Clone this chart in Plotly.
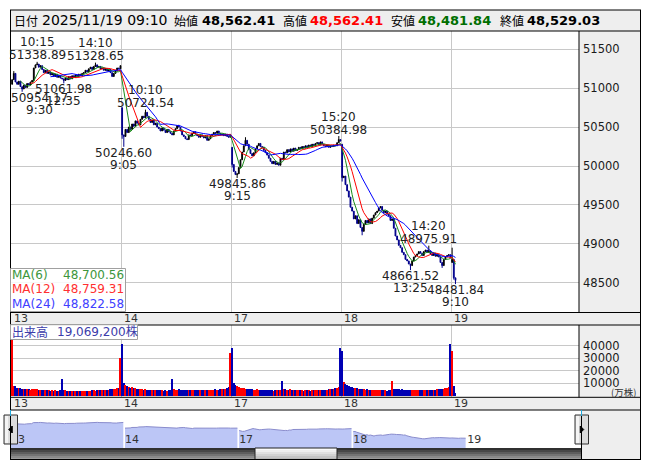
import plotly.graph_objects as go
import pandas as pd

W, H = 653, 470
def px(x): return x / W
def py(y): return 1 - y / H

FONT = "DejaVu Sans, Noto Sans CJK JP, sans-serif"
JP = "Noto Sans CJK JP, DejaVu Sans, sans-serif"

# ---------------- data ----------------
day_labels = ["13", "14", "17", "18", "19"]
bars_per_day = 66
day_open = [51050, 50750, 50240, 50280, 48760]

close_d13 = [51110, 51190, 51080, 51050, 51090, 51020, 50990, 51040, 51010, 51060,
             51040, 51080, 51100, 51260, 51300, 51310, 51270, 51290, 51240, 51200,
             51230, 51190, 51210, 51170, 51190, 51150, 51180, 51140, 51160, 51130,
             51120, 51100, 51130, 51110, 51150, 51120, 51160, 51140, 51170, 51150,
             51180, 51160, 51190, 51200, 51230, 51210, 51250, 51270, 51240, 51280,
             51300, 51270, 51280, 51250, 51260, 51230, 51250, 51220, 51240, 51200,
             51150, 51190, 51220, 51260, 51250, 51290]
close_d14 = [50400, 50380, 50470, 50430, 50500, 50470, 50540, 50510, 50580, 50550,
             50530, 50600, 50640, 50620, 50690, 50640, 50600, 50560, 50590, 50530,
             50550, 50500, 50480, 50450, 50490, 50460, 50430, 50470, 50440, 50420,
             50400, 50450, 50480, 50520, 50500, 50450, 50400, 50380, 50350, 50340,
             50400, 50390, 50420, 50440, 50410, 50390, 50370, 50400, 50380, 50360,
             50390, 50330, 50350, 50390, 50410, 50430, 50420, 50450, 50420, 50400,
             50410, 50390, 50410, 50380, 50370, 50400]
close_d17 = [50020, 49930, 49890, 49900, 49980, 50080, 50180, 50260, 50330, 50280,
             50210, 50160, 50130, 50170, 50220, 50260, 50290, 50250, 50240, 50200,
             50170, 50140, 50100, 50060, 50030, 50060, 50020, 50040, 50010, 50100,
             50080, 50180, 50170, 50210, 50180, 50220, 50190, 50230, 50200, 50210,
             50240, 50220, 50250, 50230, 50260, 50240, 50270, 50250, 50280, 50260,
             50290, 50300, 50270, 50310, 50280, 50260, 50250, 50270, 50240, 50260,
             50250, 50270, 50260, 50300, 50340, 50320]
close_d18 = [49850, 49870, 49760, 49680, 49600, 49470, 49420, 49320, 49360, 49260,
             49310, 49210, 49160, 49250, 49300, 49270, 49320, 49260, 49330, 49370,
             49400, 49420, 49460, 49480, 49430, 49400, 49420, 49380, 49360, 49300,
             49320, 49200, 49100, 49050, 48980, 48950, 48890, 48860, 48800, 48780,
             48740, 48720, 48780, 48830, 48850, 48870, 48900, 48880, 48850, 48900,
             48920, 48890, 48910, 48870, 48850, 48880, 48840, 48860, 48830, 48760,
             48720, 48800, 48830, 48850, 48860, 48820]
close_d19 = [48800, 48562.41, 48529.03]

vol_d13 = [44500, 7600, 7800, 6500, 6000, 6300, 5800, 5500, 5700, 5200,
           5400, 5000, 5500, 5600, 5200, 5100, 4800, 4700, 4900, 4500,
           4400, 4600, 4300, 4200, 4500, 4100, 4300, 4000, 4200, 4400,
           13300, 4800, 4300, 4100, 3900, 4000, 3800, 3700, 3900, 3600,
           3800, 3700, 3900, 4000, 3800, 4100, 4200, 4000, 4300, 4500,
           4200, 4400, 4600, 4300, 4500, 4700, 4800, 4600, 5000, 5200,
           5100, 5400, 5800, 6000, 6400, 30000]
vol_d14 = [41500, 10400, 8500, 7500, 7200, 6500, 6800, 6000, 6200, 5800,
           5500, 5600, 5300, 5000, 5200, 4900, 5000, 4800, 4600, 4700,
           4500, 4600, 4400, 4300, 4500, 4200, 4400, 4100, 4300, 4600,
           13300, 5600, 5000, 4800, 5200, 4900, 4600, 4700, 4500, 4800,
           4600, 4400, 4500, 4300, 4600, 4400, 4700, 4500, 4300, 4600,
           4400, 4800, 4600, 4500, 4700, 4900, 5100, 4800, 5000, 5300,
           5200, 5500, 5800, 6200, 6800, 34000]
vol_d17 = [38500, 10000, 8800, 8000, 7000, 6500, 6200, 6000, 5800, 5500,
           5600, 5300, 5200, 5000, 4800, 5100, 4700, 4900, 4600, 4800,
           4500, 4600, 4400, 4300, 4500, 4200, 4400, 4300, 4500, 4600,
           12000, 5800, 5300, 5000, 4800, 5100, 4700, 4500, 4600, 4400,
           4700, 4300, 4500, 4200, 4400, 4300, 4500, 4200, 4400, 4600,
           4300, 4500, 4700, 4400, 4600, 4800, 4700, 5000, 5200, 5100,
           5400, 5600, 5900, 6300, 7000, 38000]
vol_d18 = [36000, 11000, 9500, 8500, 7800, 7000, 6800, 6500, 6000, 6200,
           5800, 5600, 5500, 5300, 5000, 5200, 4900, 4800, 5000, 4700,
           4600, 4800, 4500, 4400, 4600, 4300, 4500, 4200, 4400, 4600,
           12000, 5800, 5500, 5200, 5400, 5000, 5100, 4800, 4700, 5000,
           4800, 4600, 4500, 4700, 4400, 4600, 4300, 4500, 4700, 4400,
           4600, 4800, 4500, 4700, 4900, 4600, 5000, 5200, 5100, 5400,
           5600, 5500, 5900, 6200, 7000, 41500]
vol_d19 = [36000, 8000, 1906.92]

# wick extremes (bar index -> price)
wick_high_bars = [1, 15, 50, 80, 100, 140, 196, 250, 264]
wick_high_vals = [51220, 51338.89, 51328.65, 50724.54, 50530, 50370, 50384.98, 48975.91, 48950]
wick_low_bars = [6, 31, 66, 67, 132, 135, 198, 210, 239, 258, 265, 266]
wick_low_vals = [50954.17, 51061.98, 50350, 50246.60, 49980, 49845.86, 49800, 49110,
                 48661.52, 48690, 48540, 48481.84]

# annotated highs / lows
lbl_bar = [15, 50, 6, 31, 67, 80, 135, 196, 239, 250, 266]
lbl_price = [51338.89, 51328.65, 50954.17, 51061.98, 50246.60, 50724.54,
             49845.86, 50384.98, 48661.52, 48975.91, 48481.84]
lbl_time = ["10:15", "14:10", "9:30", "12:35", "9:05", "10:10",
            "9:15", "15:20", "13:25", "14:20", "9:10"]
lbl_kind = ["high", "high", "low", "low", "low", "high",
            "low", "high", "low", "high", "low"]

ma_names = ["MA(6)", "MA(12)", "MA(24)"]
ma_periods = [6, 12, 24]
ma_last = ["48,700.56", "48,759.31", "48,822.58"]
hdr_open, hdr_high, hdr_low, hdr_close = "48,562.41", "48,562.41", "48,481.84", "48,529.03"
hdr_date = "2025/11/19 09:10"
volume_text = "19,069,200株"

price_ticks = [48500, 49000, 49500, 50000, 50500, 51000, 51500]
vol_ticks = [10000, 20000, 30000, 40000]

# ---------------- assemble ----------------
closes_by_day = [close_d13, close_d14, close_d17, close_d18, close_d19]
vols_by_day = [vol_d13, vol_d14, vol_d17, vol_d18, vol_d19]
for c, v in zip(closes_by_day, vols_by_day):
    assert len(c) == len(v)

closes, opens, vols, xs = [], [], [], []
for d, (cl, vl) in enumerate(zip(closes_by_day, vols_by_day)):
    for j, c in enumerate(cl):
        o = day_open[d] if j == 0 else cl[j - 1]
        xs.append(d * bars_per_day + j)
        opens.append(o)
        closes.append(c)
        vols.append(vl[j])
highs = [max(o, c) for o, c in zip(opens, closes)]
lows = [min(o, c) for o, c in zip(opens, closes)]
idx = {x: k for k, x in enumerate(xs)}
for b, v in zip(wick_high_bars, wick_high_vals):
    highs[idx[b]] = max(highs[idx[b]], v)
for b, v in zip(wick_low_bars, wick_low_vals):
    lows[idx[b]] = min(lows[idx[b]], v)

s = pd.Series(closes)
mas = [s.rolling(p).mean() for p in ma_periods]
vol_colors = ["#ff0000" if c >= o else "#0000b4" for o, c in zip(opens, closes)]

fig = go.Figure()
fig.add_trace(go.Candlestick(
    x=xs, open=opens, high=highs, low=lows, close=closes,
    increasing=dict(line=dict(color="#000000", width=1), fillcolor="#000000"),
    decreasing=dict(line=dict(color="#00008c", width=1), fillcolor="#00008c"),
    whiskerwidth=0, xaxis="x", yaxis="y", hoverinfo="skip"))
ma_colors = ["#1a8a1a", "#ff0000", "#0000ff"]
for m, col in zip(mas, ma_colors):
    fig.add_trace(go.Scatter(x=xs, y=m, mode="lines", line=dict(color=col, width=1),
                             xaxis="x", yaxis="y", hoverinfo="skip"))
fig.add_trace(go.Bar(x=xs, y=vols, marker=dict(color=vol_colors, line=dict(width=0)),
                     width=0.6, xaxis="x2", yaxis="y2", hoverinfo="skip"))

# navigator (days with full sessions)
for d in range(4):
    nx = [d * bars_per_day + j for j in range(len(closes_by_day[d]))]
    fig.add_trace(go.Scatter(x=nx, y=closes_by_day[d], mode="lines", fill="tozeroy",
                             fillcolor="#bcc6f6", line=dict(color="#8a8ccc", width=1),
                             xaxis="x3", yaxis="y3", hoverinfo="skip"))
nav_label_y = 48430
fig.add_trace(go.Scatter(x=[d * bars_per_day for d in range(5)], y=[nav_label_y] * 5,
                         mode="text", text=day_labels, textposition="middle right",
                         textfont=dict(family=FONT, size=11, color="#333333"),
                         xaxis="x3", yaxis="y3", hoverinfo="skip", cliponaxis=False))

# ---------------- axes ----------------
BW = 110 / 66.0
XL = 11.3
xr = [-0.5 - (XL - 11) / BW, -0.5 + (579 - XL) / BW]
bounds = [d * bars_per_day - 0.5 for d in range(1, 5)]
grid = "#c8c8c8"
common_x = dict(range=xr, showticklabels=False, ticks="", tickvals=bounds, showgrid=True,
                gridcolor=grid, gridwidth=1, zeroline=False, showline=False, fixedrange=True)
p_top, p_bot = 31, 312.5
ppx = 0.0778
ymax = 48500 + (282.7 - p_top) / ppx
ymin = 48500 - (p_bot - 282.7) / ppx
v_top, v_bot = 325, 397.3
vpx = 12.5 / 10000
v0 = 395.8
vr = [-(v_bot - v0) / vpx, (v0 - v_top) / vpx]
n_top, n_bot = 410, 448
nb = 1.729
nxr = [(10.5 - 10.9) / nb, (581.5 - 10.9) / nb]
nyr = [48850 - (n_bot - 438) * 156.7, 51200 + (423 - n_top) * 156.7]

tickfont = dict(family=FONT, size=11.5, color="#1a1a1a")
fig.update_layout(
    width=W, height=H, margin=dict(l=0, r=0, t=0, b=0, pad=0),
    paper_bgcolor="#ffffff", plot_bgcolor="rgba(0,0,0,0)", showlegend=False,
    template="none", bargap=0,
    xaxis=dict(domain=[px(11), px(579)], anchor="y", rangeslider=dict(visible=False), **common_x),
    yaxis=dict(domain=[py(p_bot), py(p_top)], range=[ymin, ymax], side="right", anchor="x",
               tickvals=price_ticks, ticktext=[str(t) for t in price_ticks], ticks="",
               showgrid=True, gridcolor=grid, zeroline=False, showline=False,
               tickfont=tickfont, ticklabelstandoff=3, fixedrange=True, automargin=False),
    xaxis2=dict(domain=[px(11), px(579)], anchor="y2", **common_x),
    yaxis2=dict(domain=[py(v_bot), py(v_top)], range=vr, side="right", anchor="x2",
                tickvals=vol_ticks, ticktext=[str(t) for t in vol_ticks], ticks="",
                showgrid=True, gridcolor=grid, zeroline=False, showline=False,
                tickfont=tickfont, ticklabelstandoff=3, fixedrange=True, automargin=False),
    xaxis3=dict(domain=[px(10.5), px(581.5)], anchor="y3", range=nxr, visible=False, fixedrange=True),
    yaxis3=dict(domain=[py(n_bot), py(n_top)], anchor="x3", range=nyr, visible=False, fixedrange=True),
)

# ---------------- frame & panels ----------------
shapes = []
def rect(x0, y0, x1, y1, fill=None, line=None, lw=1, layer="below"):
    shapes.append(dict(type="rect", xref="paper", yref="paper", x0=px(x0), x1=px(x1),
                       y0=py(y0), y1=py(y1), fillcolor=fill or "rgba(0,0,0,0)",
                       line=dict(color=line or "rgba(0,0,0,0)", width=lw if line else 0),
                       layer=layer))
def hline(y, x0, x1, color="#000000"):
    shapes.append(dict(type="line", xref="paper", yref="paper", x0=px(x0), x1=px(x1),
                       y0=py(y), y1=py(y), line=dict(color=color, width=1), layer="above"))
def vline(x, y0, y1, color="#000000"):
    shapes.append(dict(type="line", xref="paper", yref="paper", x0=px(x), x1=px(x),
                       y0=py(y0), y1=py(y1), line=dict(color=color, width=1), layer="above"))

GRAY = "#eeeeee"
rect(10, 10, 641, 31, fill=GRAY)                 # header
rect(579, 31, 641, 410, fill=GRAY)               # right axis column
rect(10, p_bot, 641, v_top, fill=GRAY)           # date strip 1
rect(10, v_bot, 641, 410, fill=GRAY)             # date strip 2
rect(581.5, 410, 641, 459.5, fill=GRAY)          # nav right
# scrollbar
sb_cols = ["#303030", "#484848", "#5e5e5e", "#747474", "#8a8a8a", "#9c9c9c"]
sb_y = [448, 450, 452, 454, 456, 458, 459.5]
for k, col in enumerate(sb_cols):
    rect(10.5, sb_y[k], 581.5, sb_y[k + 1], fill=col, layer="above")
th_cols = ["#fafafa", "#eeeeee", "#e0e0e0", "#d2d2d2", "#c4c4c4", "#b8b8b8"]
for k, col in enumerate(th_cols):
    rect(255, sb_y[k], 337, sb_y[k + 1], fill=col, layer="above")
rect(255, 448, 337, 459.5, line="#222222", layer="above")
# nav buttons
for bx0, bx1, left in [(4, 17.5, True), (575, 588.5, False)]:
    rect(bx0, 415, bx1, 444, fill="#dcdcdc", line="#333333", layer="above")
    rect(bx0 + 1, 416, bx0 + 4, 443, fill="#f4f4f4", layer="above")
    cx, cy = (bx0 + bx1) / 2, 429.5
    if left:
        pts = [(cx + 1.5, cy - 3.5), (cx + 1.5, cy + 3.5), (cx - 2, cy)]
    else:
        pts = [(cx - 1.5, cy - 3.5), (cx - 1.5, cy + 3.5), (cx + 2, cy)]
    path = "M " + " L ".join(f"{px(a)},{py(b)}" for a, b in pts) + " Z"
    shapes.append(dict(type="path", xref="paper", yref="paper", path=path,
                       fillcolor="#000000", line=dict(color="#000000", width=1), layer="above"))
# lines
for y in [10, 31, p_bot, v_top, v_bot, 410, 459.5]:
    hline(y, 10, 641)
vline(10.5, 10, 459.5)
vline(640.5, 10, 459.5)
vline(579, 31, p_bot)
vline(579, v_top, v_bot)
vline(581.5, 410, 459.5)
vline(10.5, 410, 416, "#22aadd")
vline(581.5, 410, 416, "#22aadd")

# legend boxes
rect(10.5, 268.5, 125.5, 311.5, fill="rgba(255,255,255,0.85)", line="#a0a0a0", layer="above")
rect(10.5, 324.5, 137.5, 339.5, fill="rgba(255,255,255,0.85)", line="#a0a0a0", layer="above")
fig.update_layout(shapes=shapes)

# ---------------- texts ----------------
ann = []
def text(x, y, s, size=12, color="#000000", anchor="left", family=FONT, bold=False):
    if bold:
        s = "<b>" + s + "</b>"
    ann.append(dict(xref="paper", yref="paper", x=px(x), y=py(y), text=s, showarrow=False,
                    xanchor=anchor, yanchor="middle", font=dict(family=family, size=size, color=color)))

# header
hy = 20.5
text(12, hy, "日付", 12, family=JP)
text(40, hy, hdr_date, 14)
text(172, hy, "始値", 12, family=JP)
text(200, hy, hdr_open, 13, bold=True)
text(281, hy, "高値", 12, family=JP)
text(308, hy, hdr_high, 13, color="#ff0000", bold=True)
text(389, hy, "安値", 12, family=JP)
text(416, hy, hdr_low, 13, color="#006e00", bold=True)
text(498, hy, "終値", 12, family=JP)
text(525, hy, hdr_close, 13, bold=True)

# MA legend
ma_text_colors = ["#3c963c", "#ff3030", "#4040ff"]
for k, (nm, val, col) in enumerate(zip(ma_names, ma_last, ma_text_colors)):
    yy = 275 + 14.3 * k
    text(10, yy, nm, 12, color=col)
    text(126, yy, val, 12, color=col, anchor="right")

# volume legend
text(10, 331.5, "出来高", 12, color="#3c3caa", family=JP)
text(55, 331.5, volume_text, 12, color="#3c3caa")
text(638, 391.8, "(万株)", 9.5, color="#333333", family=JP, anchor="right")

# date strips
for d, lab in enumerate(day_labels):
    for yy, ref in [(318.8, "x"), (403.5, "x")]:
        ann.append(dict(xref=ref, yref="paper", x=d * bars_per_day - 0.5, y=py(yy), text=lab,
                        showarrow=False, xanchor="left", yanchor="middle", xshift=1,
                        font=dict(family=FONT, size=11, color="#333333")))

# high / low labels
for b, p, t, k in zip(lbl_bar, lbl_price, lbl_time, lbl_kind):
    sgn = 1 if k == "high" else -1
    xs_shift = 17 if b == 6 else 0
    for s_, sh in [(f"{p:.2f}", 6.5 if k == "high" else 6.0), (t, 19.5 if k == "high" else 18.0)]:
        ann.append(dict(xref="x", yref="y", x=b, y=p, text=s_, showarrow=False,
                        xanchor="center", yanchor="middle", xshift=xs_shift, yshift=sgn * sh,
                        font=dict(family=FONT, size=12, color="#222222")))

fig.update_layout(annotations=ann)
fig.write_html("out.html", config={"displayModeBar": False},
               post_script="document.body.style.margin='0';document.body.style.padding='0';")
